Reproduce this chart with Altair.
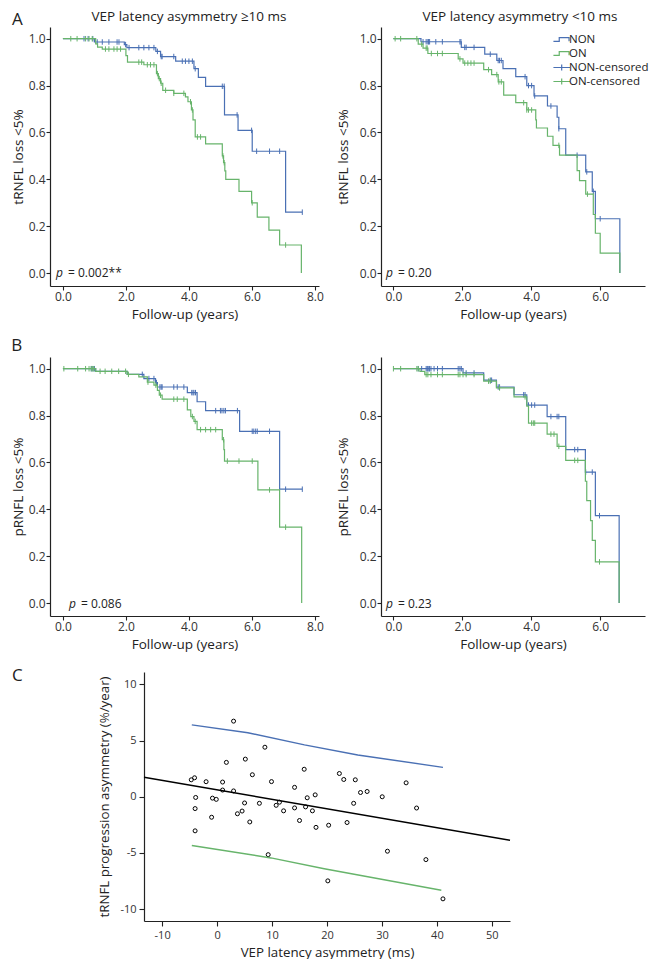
import altair as alt
import numpy as np
import pandas as pd

FONT = "Open Sans"
BLUE = "#4a70b4"
GREEN = "#67b46b"
INK = "#222222"

# ---------------- Panel A (tRNFL) ----------------
A1_NON_T = [0, 1.0, 1.95, 2.03, 2.95, 3.1, 3.58, 4.16, 4.3, 4.53, 5.13, 5.56, 6.01, 7.07, 7.6]
A1_NON_S = [1.0, 0.986, 0.975, 0.962, 0.946, 0.924, 0.904, 0.872, 0.835, 0.797, 0.675, 0.609, 0.52, 0.26, 0.26]
A1_NON_CENS = [0.67, 0.8, 0.95, 1.09, 1.25, 1.46, 1.72, 1.78, 1.99, 2.1, 2.41, 2.57, 2.73, 2.89, 3.0,
               3.12, 3.15, 3.52, 3.79, 3.89, 4.0, 4.11, 4.2, 5.06, 5.12, 5.53, 5.99, 6.15, 6.56, 6.88, 7.6]
A1_ON_T = [0, 1.04, 1.1, 1.25, 2.0, 2.05, 2.57, 2.97, 3.03, 3.1, 3.17, 3.52, 3.89, 3.97, 4.08, 4.13,
           4.2, 4.53, 5.06, 5.1, 5.14, 5.17, 5.59, 5.99, 6.17, 6.54, 6.88, 7.57]
A1_ON_S = [1.0, 0.978, 0.964, 0.956, 0.928, 0.90, 0.889, 0.851, 0.83, 0.81, 0.78, 0.767, 0.752, 0.731,
           0.696, 0.654, 0.581, 0.551, 0.50, 0.471, 0.436, 0.40, 0.349, 0.30, 0.239, 0.183, 0.12, 0.0]
A1_ON_CENS = [0.25, 0.45, 0.72, 0.83, 0.93, 1.35, 1.46, 1.62, 1.72, 1.83, 2.41, 2.5, 2.68, 2.78, 2.89,
              3.0, 3.06, 3.12, 3.26, 3.52, 3.84, 4.05, 4.11, 4.27, 4.37, 5.08, 5.12, 6.01, 7.07]

A2_NON_T = [0, 0.8, 1.97, 2.65, 3.0, 3.18, 3.55, 3.87, 4.08, 4.47, 4.75, 4.8, 5.0, 5.58, 5.77, 5.86, 6.57]
A2_NON_S = [1.0, 0.987, 0.963, 0.934, 0.907, 0.872, 0.838, 0.80, 0.756, 0.713, 0.665, 0.616, 0.503,
            0.432, 0.349, 0.232, 0.0]
A2_NON_CENS = [0.86, 0.95, 1.0, 1.02, 1.05, 1.23, 1.42, 1.93, 1.96, 2.07, 2.11, 2.34, 2.81, 3.04, 3.08,
               3.13, 3.82, 3.92, 4.01, 4.1, 4.57, 4.8, 5.33, 5.61, 5.8, 6.0]
A2_ON_T = [0, 0.72, 0.86, 1.0, 1.88, 2.02, 2.62, 2.85, 3.04, 3.2, 3.55, 3.87, 4.13, 4.15, 4.47, 4.63,
           4.82, 5.33, 5.4, 5.58, 5.8, 5.86, 6.0, 6.57]
A2_ON_S = [1.0, 0.977, 0.96, 0.937, 0.914, 0.896, 0.868, 0.847, 0.816, 0.759, 0.727, 0.696, 0.654,
           0.619, 0.584, 0.545, 0.503, 0.437, 0.395, 0.337, 0.25, 0.17, 0.085, 0.0]
A2_ON_CENS = [0.05, 0.21, 0.68, 0.82, 0.95, 0.98, 1.1, 1.28, 1.42, 1.93, 2.07, 2.16, 2.25, 2.34, 2.76,
              3.0, 3.06, 3.13, 3.78, 3.87, 3.92, 4.01, 4.8, 5.63]

# ---------------- Panel B (pRNFL) ----------------
B1_NON_T = [0, 1.04, 2.04, 2.57, 2.94, 3.0, 3.95, 4.26, 4.53, 5.61, 6.88, 7.6]
B1_NON_S = [1.0, 0.989, 0.976, 0.958, 0.941, 0.922, 0.898, 0.859, 0.821, 0.733, 0.486, 0.486]
B1_NON_CENS = [0.9, 0.95, 1.0, 2.52, 2.73, 2.89, 2.97, 3.08, 3.12, 3.15, 3.52, 3.63, 3.84, 4.09, 4.13,
               4.16, 4.21, 4.85, 5.0, 5.05, 5.11, 5.16, 5.54, 6.01, 6.06, 6.12, 6.17, 6.56, 7.07, 7.6]
B1_ON_T = [0, 1.04, 2.04, 2.41, 2.68, 2.89, 3.0, 3.06, 3.15, 3.95, 4.06, 4.16, 4.26, 5.06, 5.11, 5.13,
           6.19, 6.88, 7.58]
B1_ON_S = [1.0, 0.989, 0.976, 0.965, 0.943, 0.93, 0.908, 0.887, 0.87, 0.824, 0.796, 0.775, 0.74, 0.697,
           0.655, 0.606, 0.483, 0.324, 0.0]
B1_ON_CENS = [0.03, 0.47, 0.72, 0.83, 0.9, 0.95, 0.98, 1.18, 1.34, 1.55, 1.77, 1.99, 2.08, 2.7, 2.95,
              3.1, 3.52, 3.63, 3.84, 4.11, 4.2, 4.37, 4.53, 4.69, 4.85, 5.1, 5.22, 5.59, 6.01, 6.56, 7.07]

B2_NON_T = [0, 2.02, 2.62, 2.99, 3.5, 3.87, 4.46, 5.0, 5.57, 5.86, 6.55]
B2_NON_S = [1.0, 0.982, 0.951, 0.922, 0.889, 0.845, 0.796, 0.655, 0.559, 0.373, 0.0]
B2_NON_CENS = [0.72, 0.82, 0.95, 0.98, 1.0, 1.03, 1.05, 1.09, 1.18, 1.28, 1.42, 1.88, 1.93, 1.97, 2.11,
               2.34, 2.81, 2.85, 3.04, 3.08, 3.78, 3.82, 3.92, 4.01, 4.1, 4.57, 4.75, 4.8, 5.26, 5.35,
               5.58, 5.77, 5.98]
B2_ON_T = [0, 0.77, 0.91, 2.62, 2.99, 3.5, 3.87, 3.92, 4.46, 4.75, 5.0, 5.57, 5.61, 5.72, 5.77, 5.86, 6.55]
B2_ON_S = [1.0, 0.989, 0.975, 0.947, 0.918, 0.88, 0.84, 0.768, 0.721, 0.669, 0.609, 0.52, 0.437, 0.352,
           0.268, 0.176, 0.0]
B2_ON_CENS = [0.0, 0.21, 0.68, 0.72, 0.95, 1.0, 1.09, 1.28, 1.42, 1.88, 1.93, 2.02, 2.11, 2.34, 2.76,
              2.81, 3.08, 3.82, 4.01, 4.06, 4.1, 4.57, 4.66, 4.8, 5.26, 5.35, 5.98]

# ---------------- Panel C (scatter) ----------------
C_X = [-4.7, -4.1, -3.9, -4.0, -4.0, -2.0, -1.0, -0.84, -0.15, 1.0, 1.0, 1.69, 3.0, 3.0, 3.7, 4.55,
       5.0, 5.14, 5.95, 6.42, 7.7, 8.7, 9.3, 9.9, 10.75, 11.35, 12.1, 14.1, 14.1, 15.0, 15.85, 16.1,
       16.4, 17.35, 17.85, 18.0, 20.3, 20.15, 22.25, 23.05, 23.65, 24.85, 25.15, 26.1, 27.3, 30.05,
       31.0, 34.4, 36.3, 38.0, 41.1]
C_Y = [1.51, 1.69, -0.06, -1.05, -3.03, 1.34, -1.82, -0.12, -0.23, 1.31, 0.6, 3.06, 6.73, 0.52,
       -1.51, -1.27, -0.55, 3.35, -2.24, 1.96, -0.58, 4.41, -5.15, 1.35, -0.76, -0.48, -1.25, 0.84,
       -0.99, -2.11, 2.45, -0.9, -0.09, -1.25, 0.17, -2.72, -2.53, -7.48, 2.07, 1.54, -2.29, -0.58,
       1.51, 0.38, 0.47, 0.0, -4.84, 1.24, -1.0, -5.59, -9.08]
UPPER_X = [-4.6, 5.6, 15.9, 25.6, 41.1]
UPPER_Y = [6.40, 5.70, 4.62, 3.72, 2.62]
LOWER_X = [-4.6, 9.8, 19.5, 40.8]
LOWER_Y = [-4.33, -5.44, -6.40, -8.31]
FIT_X = [-13.3, 53.3]
FIT_Y = [1.74, -3.87]

LEGEND_KEYS = ["NON", "ON", "NON-censored", "ON-censored"]
STEP_PATH = "M-1.4,0.3H-0.45V-0.3H1.15V0.3"
CENS_PATH = "M-1.4,0H1.3M-0.05,-0.5V0.5"
TICK_PATH = "M0,-1V1"

KM_H = 259
C_H = 249


def step_df(t, s):
    return pd.DataFrame({"t": t, "s": s})


def censor_df(times, t, s):
    t = np.asarray(t, dtype=float)
    s = np.asarray(s, dtype=float)
    idx = np.searchsorted(t, np.asarray(times, dtype=float), side="right") - 1
    return pd.DataFrame({"t": times, "s": s[idx]})


def text_layer(txt, x, y, size=12, style="normal", align="left"):
    return alt.Chart(pd.DataFrame({"label": [txt]})).mark_text(
        align=align, baseline="alphabetic", font=FONT, fontSize=size,
        fontStyle=style, color=INK
    ).encode(text="label:N", x=alt.value(x), y=alt.value(y))


def km_panel(non, on, xdom, xticks, width, ytitle, ytitle_pad, p_txt, p_x, eq_x, p_y,
             title=None, letter=None, legend=False):
    (nt, ns, nc), (ot, os_, oc) = non, on
    x = alt.X("t:Q", scale=alt.Scale(domain=xdom, nice=False, zero=False),
              axis=alt.Axis(values=xticks, format=".1f", title="Follow-up (years)",
                            labelFontSize=12, tickSize=4, labelPadding=1, titlePadding=5,
                            titleFontSize=13.5))
    y = alt.Y("s:Q", scale=alt.Scale(domain=[-0.055, 1.05], nice=False, zero=False),
              axis=alt.Axis(values=[0, 0.2, 0.4, 0.6, 0.8, 1.0], format=".1f", title=ytitle,
                            labelFontSize=12, tickSize=4, labelPadding=1,
                            titlePadding=ytitle_pad, titleFontSize=13.5))
    non_line = alt.Chart(step_df(nt, ns)).mark_line(
        interpolate="step-after", color=BLUE, strokeWidth=1.2).encode(x=x, y=y)
    non_c = alt.Chart(censor_df(nc, nt, ns)).mark_point(
        shape=TICK_PATH, size=30, color=BLUE, strokeWidth=1, filled=False, opacity=1
    ).encode(x="t:Q", y="s:Q")
    on_line = alt.Chart(step_df(ot, os_)).mark_line(
        interpolate="step-after", color=GREEN, strokeWidth=1.2).encode(x="t:Q", y="s:Q")
    on_c = alt.Chart(censor_df(oc, ot, os_)).mark_point(
        shape=TICK_PATH, size=30, color=GREEN, strokeWidth=1, filled=False, opacity=1
    ).encode(x="t:Q", y="s:Q")
    layers = [non_line, non_c, on_line, on_c,
              text_layer("p", p_x, p_y, 12, "italic"),
              text_layer("= " + p_txt, eq_x, p_y, 12)]
    if title is not None:
        layers.append(text_layer(title, 139, -6, 13.5, align="center"))
    if letter is not None:
        layers.append(text_layer(letter, -38, -2.5, 17))
    if legend:
        cdf = pd.concat([
            censor_df(nc, nt, ns).assign(key="NON-censored"),
            censor_df(oc, ot, os_).assign(key="ON-censored"),
        ])
        leg = alt.Legend(title=None, orient="none", legendX=174, legendY=5.5, padding=0,
                         labelFont=FONT, labelFontSize=11.5, labelColor=INK, labelOffset=0,
                         symbolSize=150, symbolStrokeWidth=1.2, symbolOpacity=1,
                         rowPadding=1)
        layers.append(alt.Chart(cdf).mark_point(opacity=0, filled=False).encode(
            x="t:Q", y="s:Q",
            color=alt.Color("key:N", scale=alt.Scale(domain=LEGEND_KEYS,
                                                     range=[BLUE, GREEN, BLUE, GREEN]),
                            legend=leg),
            shape=alt.Shape("key:N", scale=alt.Scale(domain=LEGEND_KEYS,
                                                     range=[STEP_PATH, STEP_PATH, CENS_PATH, CENS_PATH]),
                            legend=leg),
        ))
    return alt.layer(*layers).properties(width=width, height=KM_H)


A1 = km_panel((A1_NON_T, A1_NON_S, A1_NON_CENS), (A1_ON_T, A1_ON_S, A1_ON_CENS),
              [-0.41, 8.13], [0, 2, 4, 6, 8], 269, "tRNFL loss <5%", 3,
              "0.002**", 6, 18, 250, title="VEP latency asymmetry \u226510 ms", letter="A")
A2 = km_panel((A2_NON_T, A2_NON_S, A2_NON_CENS), (A2_ON_T, A2_ON_S, A2_ON_CENS),
              [-0.36, 7.3], [0, 2, 4, 6], 264, "tRNFL loss <5%", 9,
              "0.20", 5, 17, 250, title="VEP latency asymmetry <10 ms", legend=True)
B1 = km_panel((B1_NON_T, B1_NON_S, B1_NON_CENS), (B1_ON_T, B1_ON_S, B1_ON_CENS),
              [-0.41, 8.13], [0, 2, 4, 6, 8], 269, "pRNFL loss <5%", 3,
              "0.086", 19, 31, 251)
B2 = km_panel((B2_NON_T, B2_NON_S, B2_NON_CENS), (B2_ON_T, B2_ON_S, B2_ON_CENS),
              [-0.36, 7.3], [0, 2, 4, 6], 264, "pRNFL loss <5%", 9,
              "0.23", 5, 17, 251)

# scatter
xs = alt.Scale(domain=[-13.3, 53.3], nice=False, zero=False)
ys = alt.Scale(domain=[-11.05, 11.1], nice=False, zero=False)
cx = alt.X("x:Q", scale=xs, axis=alt.Axis(values=[-10, 0, 10, 20, 30, 40, 50],
                                          labelExpr="'' + datum.value",
                                          title="VEP latency asymmetry (ms)", labelFontSize=11,
                                          tickSize=5, labelPadding=3, titlePadding=5,
                                          titleFontSize=13.3))
cy = alt.Y("y:Q", scale=ys, axis=alt.Axis(values=[-10, -5, 0, 5, 10],
                                          labelExpr="'' + datum.value",
                                          title="tRNFL progression asymmetry (%/year)",
                                          labelFontSize=11, tickSize=5, labelPadding=3,
                                          titlePadding=8, titleFontSize=13.3))
pts = alt.Chart(pd.DataFrame({"x": C_X, "y": C_Y})).mark_point(
    shape="circle", filled=False, color="black", size=16, strokeWidth=1, opacity=1
).encode(x=cx, y=cy)
upper = alt.Chart(pd.DataFrame({"x": UPPER_X, "y": UPPER_Y})).mark_line(
    color=BLUE, strokeWidth=1.4).encode(x="x:Q", y="y:Q")
lower = alt.Chart(pd.DataFrame({"x": LOWER_X, "y": LOWER_Y})).mark_line(
    color=GREEN, strokeWidth=1.4).encode(x="x:Q", y="y:Q")
fit = alt.Chart(pd.DataFrame({"x": FIT_X, "y": FIT_Y})).mark_line(
    color="black", strokeWidth=1.4).encode(x="x:Q", y="y:Q")
C = alt.layer(pts, upper, lower, fit).properties(width=366, height=C_H)
# left slot of the bottom row holding the panel letter
C_slot = alt.layer(text_layer("C", -38, 9, 17)).properties(width=47, height=C_H)

rowA = alt.hconcat(A1, A2, spacing=12).resolve_scale(
    color="independent", shape="independent").resolve_legend(
    color="independent", shape="independent")
rowB = alt.hconcat(B1, B2, spacing=12, title=alt.TitleParams(
    "B", anchor="start", fontSize=17, fontWeight="normal", font=FONT, color=INK, offset=2))
rowC = alt.hconcat(C_slot, C, spacing=0)

chart = alt.concat(rowA, rowB, rowC, columns=1, spacing=16).resolve_scale(
    color="independent", shape="independent").resolve_legend(
    color="independent", shape="independent").properties(
    padding={"left": 3, "top": 2, "right": 0, "bottom": 0}
).configure(font=FONT).configure_view(stroke=None).configure_axis(
    domainColor=INK, tickColor=INK, labelColor="#333333", titleColor=INK,
    labelFont=FONT, titleFont=FONT, titleFontWeight="normal", grid=False,
    domainWidth=1.2, tickWidth=1.1
)

chart.save("out.html", embed_options={"renderer": "svg", "actions": False})
